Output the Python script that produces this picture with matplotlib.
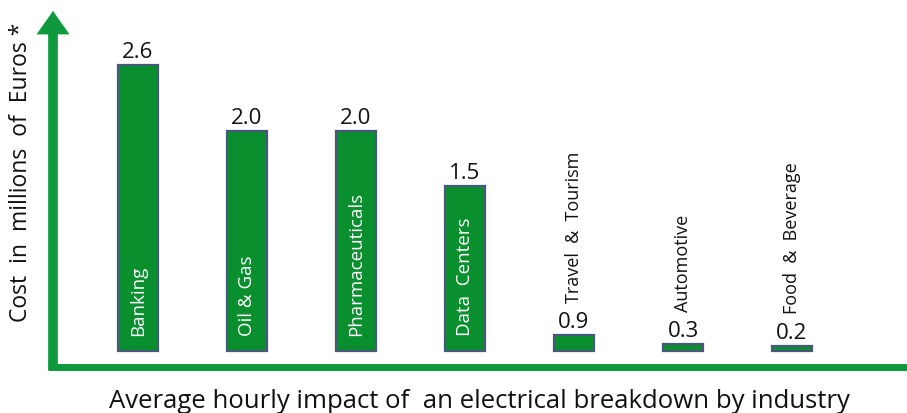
import matplotlib.pyplot as plt
import numpy as np

# datos del grafico
industries = ["Banking", "Oil & Gas", "Pharmaceuticals", "Data  Centers",
              "Travel  &  Tourism", "Automotive", "Food  &  Beverage"]
cost_labels = ["2.6", "2.0", "2.0", "1.5", "0.9", "0.3", "0.2"]
# alturas dibujadas (las barras pequenas no estan a escala en el original)
drawn_heights = [2.6, 2.0, 2.0, 1.5, 0.145, 0.065, 0.045]

green_axis = "#0e9a3c"
green_bar = "#0a8f2e"
edge_col = "#46597a"
font = ["Open Sans", "DejaVu Sans"]

fig = plt.figure(figsize=(9.07, 4.13), dpi=100)
ax = fig.add_axes([0, 0, 1, 1])
x = np.arange(len(industries))

# 109 px por categoria, 110 px por unidad
ax.set_xlim(-138 / 109, (907 - 138) / 109)
ax.set_ylim(-62 / 110, (413 - 62) / 110)
ax.axis("off")

ax.bar(x, drawn_heights, width=0.37, color=green_bar, edgecolor=edge_col, linewidth=1.6)

for xi, h, name, val in zip(x, drawn_heights, industries, cost_labels):
    ax.annotate(val, (xi, h), xytext=(0, 1.5), textcoords="offset points",
                ha="center", va="bottom", fontsize=16, family=font, color="#111111")
    if h > 1:
        ax.annotate(name, (xi, 0), xytext=(0, 11), textcoords="offset points",
                    ha="center", va="bottom", rotation=90, fontsize=13.5,
                    family=font, color="white")
    else:
        ax.annotate(name, (xi, h), xytext=(0, 23), textcoords="offset points",
                    ha="center", va="bottom", rotation=90, fontsize=13,
                    family=font, color="#111111")

# ejes con flecha
x0 = (53 - 138) / 109
y0 = -16 / 110
ax.plot([x0 - 0.045, 8], [y0, y0], color=green_axis, lw=5, solid_capstyle="butt")
ax.plot([x0, x0], [y0 - 0.03, (351 - 32) / 110], color=green_axis, lw=7,
        solid_capstyle="butt")
ax.annotate("", xy=(x0, (351 - 11) / 110), xytext=(x0, (351 - 34) / 110),
            arrowprops=dict(arrowstyle="-|>,head_length=0.85,head_width=0.6",
                            mutation_scale=19, lw=0.5, color=green_axis,
                            shrinkA=0, shrinkB=0))

fig.text(21 / 907, 1 - 172 / 413, "Cost  in  millions  of  Euros *", rotation=90,
         ha="center", va="center", fontsize=16.5, family=font, color="#111111")
fig.text(479 / 907, 1 - 401 / 413,
         "Average hourly impact of  an electrical breakdown by industry",
         ha="center", va="center", fontsize=18.5, family=font, color="#111111")

plt.savefig("out.png", dpi=100)
plt.close("all")
